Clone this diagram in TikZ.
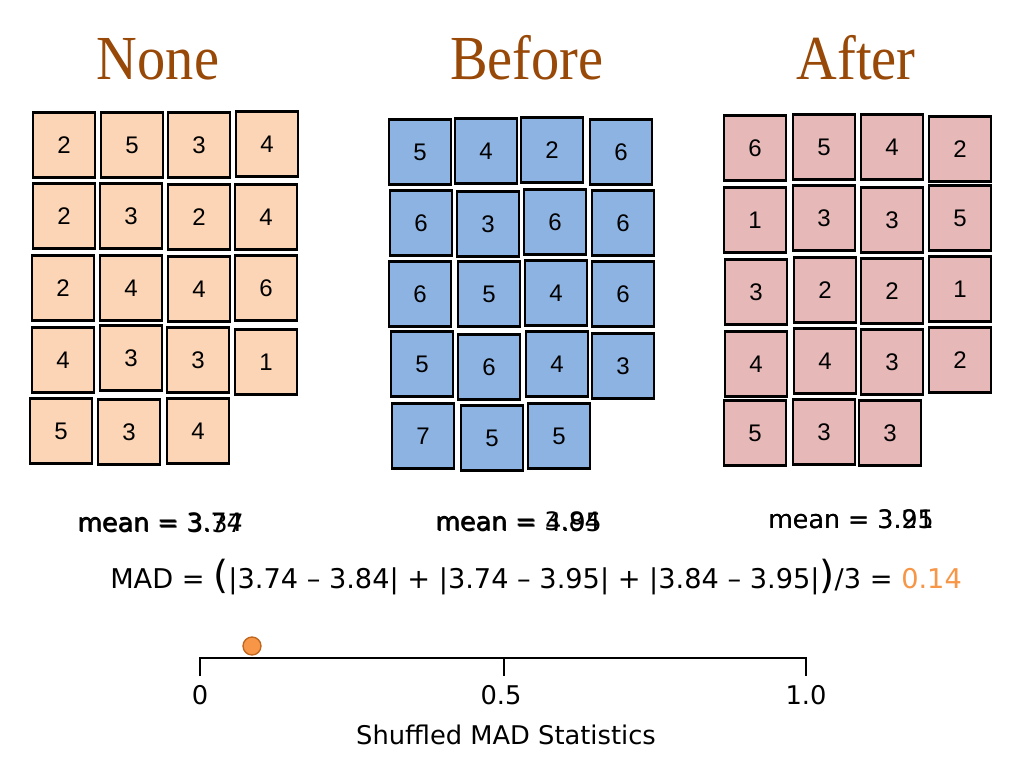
\documentclass[tikz,border=0pt]{standalone}
\usepackage{fontspec}
\usepackage{xcolor}
\usepackage{tikz}
\usetikzlibrary{positioning, calc}

\newfontfamily\titlefont[FakeStretch=0.9]{Liberation Serif}
\newfontfamily\cardfont{Liberation Sans}
\newfontfamily\labelfont{DejaVu Sans}

\definecolor{titlebrown}{HTML}{984807}
\definecolor{peach}{HTML}{FBD5B5}
\definecolor{skyblue}{HTML}{8DB3E2}
\definecolor{rosepink}{HTML}{E6B9B8}
\definecolor{madorange}{HTML}{F79646}
\definecolor{dotrim}{HTML}{C0651E}

\begin{document}
\begin{tikzpicture}[x=0.75pt, y=-0.75pt,
  card/.style={draw=black, line width=1.6pt, minimum width=46.5pt, minimum height=48.75pt,
    inner sep=0pt, font=\cardfont\fontsize{18}{18}\selectfont},
  title/.style={anchor=base, text=titlebrown, font=\titlefont\fontsize{47}{47}\selectfont},
  meanlabel/.style={anchor=base west, inner sep=0pt, font=\labelfont\fontsize{19}{19}\selectfont},
  axislabel/.style={anchor=base, inner sep=0pt, font=\labelfont\fontsize{19.3}{19.3}\selectfont}]
\useasboundingbox (0,0) rectangle (1024,768);
\fill[white] (0,0) rectangle (1024,768);

% Titles
\node[title] (none) at (158,79) {None};
\node[title] (before) at (527,79) {Before};
\node[title] (after) at (856,79) {After};

% None cards
\foreach \x/\y/\n [count=\i] in {64/145/2, 132/145/5, 199/145/3, 267/144/4,
    64/216/2, 131/216/3, 199/217/2, 266/217/4,
    63/288/2, 131/288/4, 199/289/4, 266/288/6,
    63/360/4, 131/358/3, 198/360/3, 266/362/1,
    61/431/5, 129/432/3, 198/431/4}
  \node[card, fill=peach] (none\i) at (\x,\y) {\n};

% Before cards
\foreach \x/\y/\n [count=\i] in {420/152/5, 486/151/4, 552/150/2, 621/152/6,
    421/223/6, 488/224/3, 555/222/6, 623/223/6,
    420/294/6, 489/294/5, 556/293/4, 623/294/6,
    422/364/5, 489/367/6, 557/364/4, 623/366/3,
    423/436/7, 492/438/5, 559/436/5}
  \node[card, fill=skyblue] (before\i) at (\x,\y) {\n};

% After cards
\foreach \x/\y/\n [count=\i] in {755/148/6, 824/147/5, 892/147/4, 960/149/2,
    755/220/1, 824/218/3, 892/220/3, 960/218/5,
    756/292/3, 825/290/2, 892/291/2, 960/289/1,
    756/364/4, 825/361/4, 892/362/3, 960/360/2,
    755/433/5, 824/432/3, 890/433/3}
  \node[card, fill=rosepink] (after\i) at (\x,\y) {\n};

% Means (two frames on top of each other)
\node[meanlabel] (meannone) at (77,531) {mean = 3.74};
\node[meanlabel] (meannoneb) at (78,532) {mean = 3.37};
\node[meanlabel] (meanbefore) at (435,530) {mean = 3.84};
\node[meanlabel] (meanbeforeb) at (436,531) {mean = 4.95};
\node[meanlabel] (meanafter) at (768,528) {mean = 3.95};
\node[meanlabel] (meanafterb) at (768,528) {mean = 3.21};

% MAD formula
\node[meanlabel, font=\labelfont\fontsize{20.4}{20.4}\selectfont] (mad) at (110,588)
  {MAD = {\fontsize{29}{29}\selectfont(}|3.74 – 3.84| + |3.74 – 3.95| + |3.84 – 3.95|{\fontsize{29}{29}\selectfont)}/3 = \textcolor{madorange}{0.14}};

% Number line
\coordinate (zero) at (200,658);
\coordinate (half) at (504,658);
\coordinate (one) at (806,658);
\draw[line width=1.8pt] ($(zero)+(0,18)$) -- (zero) -- (one) -- ($(one)+(0,18)$);
\draw[line width=1.8pt] (half) -- ++(0,18);
\node[axislabel] (lzero) at (200,704) {0};
\node[axislabel] (lhalf) at (501,704) {0.5};
\node[axislabel] (lone) at (806,704) {1.0};
\node[axislabel] (axistitle) at (506,744) {Shuffled MAD Statistics};

\node[circle, draw=dotrim, fill=madorange, line width=1pt, minimum size=13.5pt, inner sep=0pt] (dot) at (252,646) {};
\end{tikzpicture}
\end{document}
